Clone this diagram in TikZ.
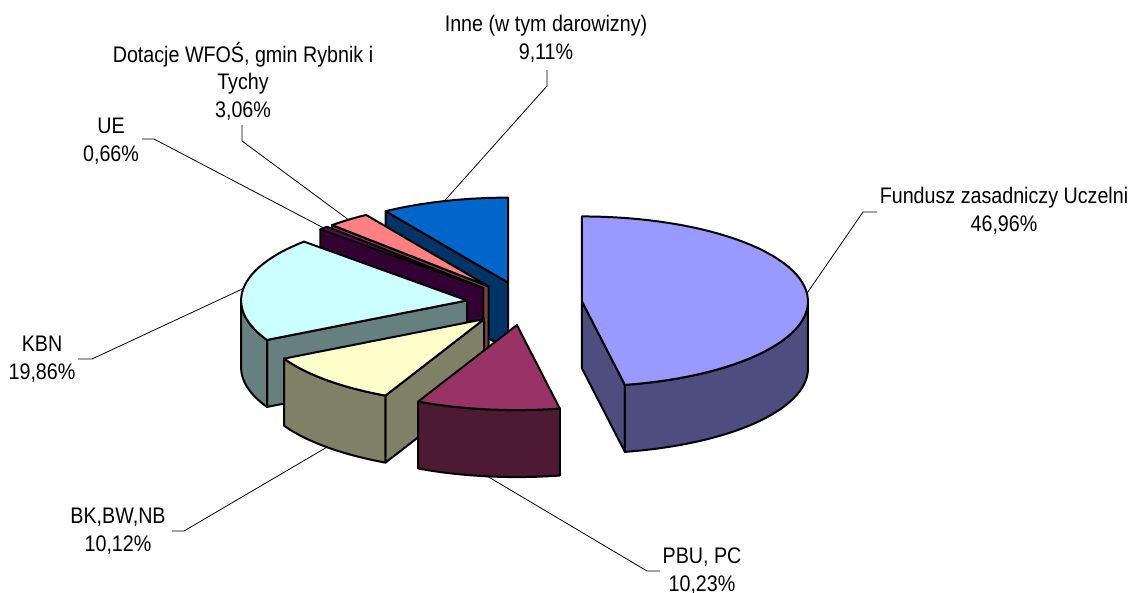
\documentclass[tikz,border=0pt]{standalone}
\usepackage{fontspec}
\setmainfont{Liberation Sans}[FakeStretch=0.875]
\def\ra{226}\def\rb{85}\def\dep{67}\def\cxo{524.4}\def\cyo{303.5}\def\ex{0.256}
\newcommand{\pieslice}[5]{% #1 name, #2 t1, #3 t2, #4 top colour, #5 side colour
  \pgfmathsetmacro{\sTm}{(#2+#3)/2}
  \pgfmathsetmacro{\sCx}{\cxo+\ex*\ra*sin(\sTm)}
  \pgfmathsetmacro{\sCy}{\cyo-\ex*\rb*cos(\sTm)}
  \coordinate (#1-c) at (\sCx,\sCy);
  \coordinate (#1-top) at ({\sCx+\ra*sin(\sTm)},{\sCy-\rb*cos(\sTm)});
  \coordinate (#1-bot) at ({\sCx+\ra*sin(\sTm)},{\sCy-\rb*cos(\sTm)+\dep});
  % start radial face
  \ifdim #2pt>180pt
    \filldraw[face, fill=#5] (#1-c) -- ({\sCx+\ra*sin(#2)},{\sCy-\rb*cos(#2)}) -- ++(0,\dep) -- (\sCx,{\sCy+\dep}) -- cycle;
  \fi
  % end radial face
  \ifdim #3pt<180pt
    \filldraw[face, fill=#5] (#1-c) -- ({\sCx+\ra*sin(#3)},{\sCy-\rb*cos(#3)}) -- ++(0,\dep) -- (\sCx,{\sCy+\dep}) -- cycle;
  \fi
  % curved outer side
  \pgfmathsetmacro{\sA}{max(#2,90)}
  \pgfmathsetmacro{\sB}{min(#3,270)}
  \ifdim \sA pt<\sB pt
    \filldraw[face, fill=#5] plot[domain=\sA:\sB, samples=50] ({\sCx+\ra*sin(\x)},{\sCy-\rb*cos(\x)})
      -- plot[domain=\sB:\sA, samples=50] ({\sCx+\ra*sin(\x)},{\sCy-\rb*cos(\x)+\dep}) -- cycle;
  \fi
  % top face
  \filldraw[face, fill=#4] (#1-c) -- plot[domain=#2:#3, samples=60] ({\sCx+\ra*sin(\x)},{\sCy-\rb*cos(\x)}) -- cycle;
}
\definecolor{fundT}{HTML}{9999FF}\definecolor{fundS}{HTML}{4D4D80}
\definecolor{pbuT}{HTML}{993366}\definecolor{pbuS}{HTML}{4D1A33}
\definecolor{bkT}{HTML}{FFFFCC}\definecolor{bkS}{HTML}{808066}
\definecolor{kbnT}{HTML}{CCFFFF}\definecolor{kbnS}{HTML}{668080}
\definecolor{ueT}{HTML}{660066}\definecolor{ueS}{HTML}{330033}
\definecolor{dotT}{HTML}{FF8080}\definecolor{dotS}{HTML}{804040}
\definecolor{inneT}{HTML}{0066CC}\definecolor{inneS}{HTML}{003366}
\begin{document}
\begin{tikzpicture}[x=1pt,y=-1pt,
  face/.style={draw=black, line width=2pt, line join=round},
  leader/.style={draw=black, line width=0.8pt},
  lbl/.style={align=center, inner sep=0pt, font=\fontsize{22.5}{27.5}\selectfont}]
\useasboundingbox (0,0) rectangle (1133,592);
\pieslice{fund}{0}{169.056}{fundT}{fundS}
\pieslice{inne}{327.204}{360}{inneT}{inneS}
\pieslice{dot}{316.188}{327.204}{dotT}{dotS}
\pieslice{ue}{313.812}{316.188}{ueT}{ueS}
\pieslice{kbn}{242.316}{313.812}{kbnT}{kbnS}
\pieslice{bk}{205.884}{242.316}{bkT}{bkS}
\pieslice{pbu}{169.056}{205.884}{pbuT}{pbuS}
% labels
\node[lbl] (lab-inne) at (546,39) {Inne (w tym darowizny)\\9,11\%};
\node[lbl] (lab-dot) at (243,81) {Dotacje WFOŚ, gmin Rybnik i\\Tychy\\3,06\%};
\node[lbl] (lab-ue) at (111,141) {UE\\0,66\%};
\node[lbl] (lab-fund) at (1004,211) {Fundusz zasadniczy Uczelni\\46,96\%};
\node[lbl] (lab-kbn) at (42,359) {KBN\\19,86\%};
\node[lbl] (lab-bk) at (118,531) {BK,BW,NB\\10,12\%};
\node[lbl] (lab-pbu) at (702,571) {PBU, PC\\10,23\%};
% leader coordinates
\coordinate (inne-l1) at (547,70); \coordinate (inne-l2) at (547,86);
\coordinate (dot-l1) at (242,125); \coordinate (dot-l2) at (242,141);
\coordinate (ue-l1) at (142,139); \coordinate (ue-l2) at (154,139);
\coordinate (fund-l1) at (877,212); \coordinate (fund-l2) at (863,212);
\coordinate (kbn-l1) at (78,359); \coordinate (kbn-l2) at (92,359);
\coordinate (bk-l1) at (172,531); \coordinate (bk-l2) at (184,531);
\coordinate (pbu-l1) at (660,571); \coordinate (pbu-l2) at (647,571);
\draw[leader] (inne-l1) -- (inne-l2) -- (inne-top);
\draw[leader] (dot-l1) -- (dot-l2) -- (dot-top);
\draw[leader] (ue-l1) -- (ue-l2) -- (ue-top);
\draw[leader] (fund-l1) -- (fund-l2) -- (fund-top);
\draw[leader] (kbn-l1) -- (kbn-l2) -- (kbn-top);
\draw[leader] (bk-l1) -- (bk-l2) -- (bk-bot);
\draw[leader] (pbu-l1) -- (pbu-l2) -- (pbu-bot);
\end{tikzpicture}
\end{document}
